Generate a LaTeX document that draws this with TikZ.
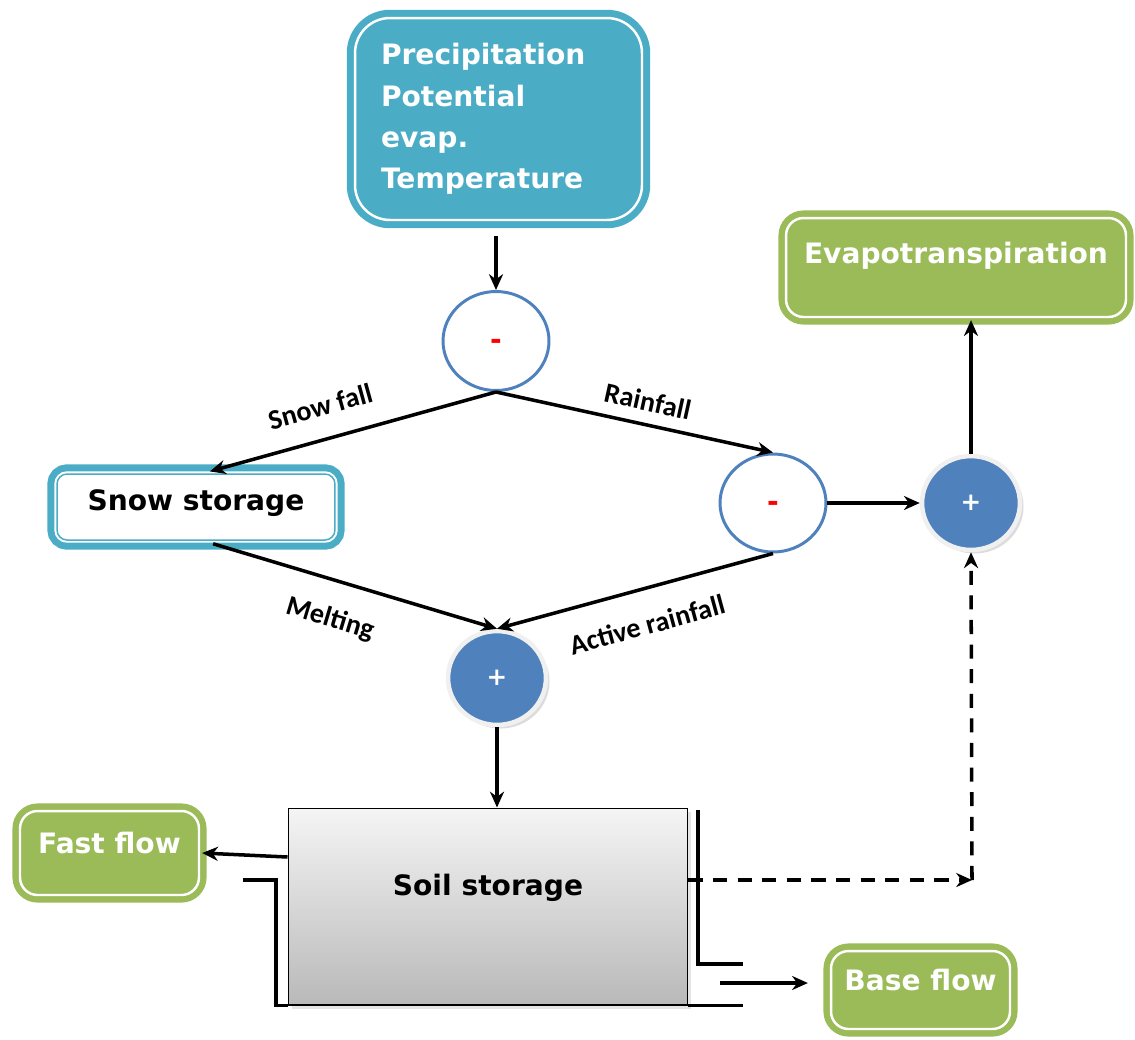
\documentclass[tikz,border=0pt]{standalone}
\usepackage{fontspec}
\setmainfont{DejaVu Sans}
\newfontfamily\lblfont{Carlito}
\usetikzlibrary{positioning,shapes.geometric,arrows.meta,shadows}
\definecolor{inteal}{HTML}{4BACC6}
\definecolor{outgreen}{HTML}{9BBB59}
\definecolor{opblue}{HTML}{4F81BD}
\tikzset{
  boxfont/.style={font=\fontsize{16}{23.6}\selectfont\bfseries},
  inbox/.style={rectangle, rounded corners=0.7cm, draw=inteal, fill=inteal,
    double=white, double distance=1.4pt, line width=4pt, text=white, boxfont,
    align=left, text width=4.7cm, inner xsep=0.52cm, minimum height=4.04cm},
  snowbox/.style={rectangle, rounded corners=0.2cm, fill=white, draw=inteal,
    line width=0.85pt, boxfont, minimum width=5.56cm, minimum height=1.32cm,
    text height=0.5cm, text depth=0.38cm,
    preaction={draw=inteal, line width=11pt},
    preaction={draw=white, line width=3.1pt}},
  outbox/.style={rectangle, rounded corners=0.35cm, draw=outgreen, fill=outgreen,
    double=white, double distance=1.4pt, line width=3.6pt, text=white, boxfont,
    text height=0.45cm, text depth=0.45cm},
  minusop/.style={ellipse, draw=opblue, line width=1.7pt, fill=white, inner sep=0pt,
    text=red, font=\fontsize{16}{16}\selectfont\bfseries,
    text height=0.45cm, text depth=0.1cm},
  plusop/.style={ellipse, draw=gray!12, line width=2.6pt, fill=opblue, inner sep=0pt,
    minimum width=1.96cm, minimum height=1.88cm, text=white,
    font=\fontsize{14}{14}\selectfont\bfseries,
    drop shadow={shadow xshift=2pt, shadow yshift=-2pt, fill=gray!55}},
  soilbox/.style={rectangle, draw=black, line width=0.6pt, top color=gray!8,
    bottom color=gray!55, boxfont, minimum width=8cm, minimum height=3.94cm,
    text height=0.4cm, text depth=0.86cm,
    drop shadow={shadow xshift=2pt, shadow yshift=-2pt, fill=gray!40}},
  flow/.style={-{Stealth[length=9pt,width=8pt]}, line width=2pt},
  dflow/.style={flow, dash pattern=on 8pt off 6pt},
  wall/.style={line width=2pt},
  lbl/.style={font=\lblfont\fontsize{16}{16}\selectfont\bfseries, sloped}
}
\begin{document}
\begin{tikzpicture}[x=0.02cm, y=-0.02cm]
\useasboundingbox (0,0) rectangle (1135,1039);

\node[inbox] (input) at (498.5,119) {Precipitation\\Potential\\evap.\\Temperature};
\node[minusop, minimum width=2.12cm, minimum height=1.98cm] (split) at (496,341) {-};
\node[snowbox] (snow) at (196,507) {Snow storage};
\node[minusop, minimum width=2.12cm, minimum height=1.96cm] (loss) at (773,503) {-};
\node[plusop] (etsum) at (971,503) {+};
\node[outbox, minimum width=6.8cm, minimum height=1.98cm, text height=0.4cm, text depth=0.58cm] (evap) at (956,267.5) {Evapotranspiration};
\node[plusop] (soilin) at (497,678) {+};
\node[soilbox] (soil) at (488,906.5) {Soil storage};
\node[outbox, minimum width=3.58cm, minimum height=1.68cm] (fast) at (109.5,853) {Fast flow};
\node[outbox, minimum width=3.58cm, minimum height=1.56cm] (base) at (920.5,990) {Base flow};
\coordinate (etcorner) at (972,880);
\coordinate (baseout) at (720,983);

\draw[flow, shorten <=7pt] (split.north |- input.south) -- (split.north);
\draw[flow, shorten >=4pt] (split.south) -- node[lbl, above=0.31cm, pos=0.57] {Snow fall} ([xshift=4pt]snow.north);
\draw[flow] (split.south) -- node[lbl, above=0.12cm, pos=0.53] {Rainfall} (loss.north);
\draw[flow] (loss.east) -- (etsum.west);
\draw[flow] (etsum.north) -- (etsum.north |- evap.south);
\draw[flow, shorten <=6pt] ([xshift=4pt]snow.south) -- node[lbl, below=0.38cm, pos=0.47] {Melting} (soilin.north);
\draw[flow] (loss.south) -- node[lbl, below=0.36cm, pos=0.49] {Active rainfall} (soilin.north);
\draw[flow] (soilin.south) -- (soilin.south |- soil.north);
\draw[flow] (soil.west |- 0,857) -- (fast.east);
\draw[flow, shorten >=0.4cm] (baseout) -- (baseout -| base.west);
\draw[dflow] (soil.east |- etcorner) -- (etcorner);
\draw[dflow] (etcorner) -- (etsum.south);

\draw[wall] (243,880) -- (276,880) |- (soil.south west);
\draw[wall] (698,810) -- (698,964) -- (743,964);
\draw[wall] (soil.south east) -- ++(55,0);
\end{tikzpicture}
\end{document}
